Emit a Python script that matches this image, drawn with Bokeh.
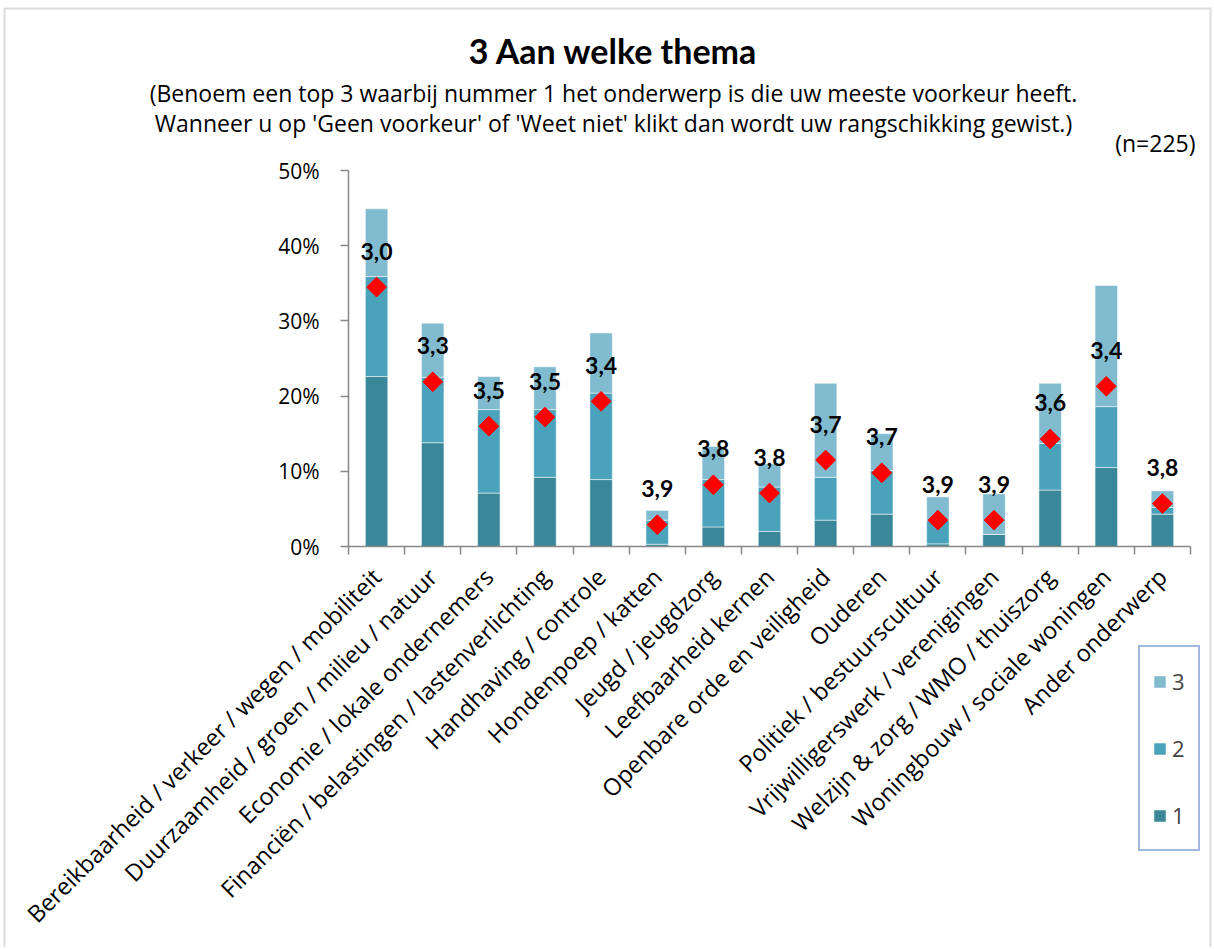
import numpy as np
from bokeh.plotting import figure
from bokeh.models import (Range1d, LinearAxis, FixedTicker, ColumnDataSource, Label, LabelSet,
                          Legend, LegendItem, PrintfTickFormatter, BoxAnnotation)
from bokeh.core.properties import value
from bokeh.embed import file_html
from bokeh.resources import INLINE

categories = [
    "Bereikbaarheid / verkeer / wegen / mobiliteit",
    "Duurzaamheid / groen / milieu / natuur",
    "Economie / lokale ondernemers",
    "Financiën / belastingen / lastenverlichting",
    "Handhaving / controle",
    "Hondenpoep / katten",
    "Jeugd / jeugdzorg",
    "Leefbaarheid kernen",
    "Openbare orde en veiligheid",
    "Ouderen",
    "Politiek / bestuurscultuur",
    "Vrijwilligerswerk / verenigingen",
    "Welzijn & zorg / WMO / thuiszorg",
    "Woningbouw / sociale woningen",
    "Ander onderwerp",
]
rank1 = [22.6, 13.8, 7.1, 9.2, 8.9, 0.3, 2.6, 2.0, 3.5, 4.3, 0.35, 1.6, 7.5, 10.5, 4.3]
rank2 = [13.3, 8.7, 11.1, 9.0, 11.5, 3.2, 6.3, 5.9, 5.7, 5.8, 3.15, 0.0, 6.2, 8.1, 0.9]
rank3 = [9.0, 7.2, 4.4, 5.7, 8.0, 1.3, 4.4, 3.1, 12.5, 4.9, 3.1, 5.4, 8.0, 16.1, 2.2]
score = [34.5, 21.9, 16.0, 17.2, 19.3, 2.9, 8.2, 7.1, 11.5, 9.8, 3.5, 3.5, 14.3, 21.3, 5.7]
avg_labels = ["3,0", "3,3", "3,5", "3,5", "3,4", "3,9", "3,8", "3,8", "3,7", "3,7",
              "3,9", "3,9", "3,6", "3,4", "3,8"]
series_names = ["1", "2", "3"]
y_ticks = [0, 10, 20, 30, 40, 50]
colors = ["#3A8799", "#4AA3BB", "#80BBD0"]

FONT = "Open Sans"
BOLD_FONT = "Lato"
n = len(categories)
xpos = [i + 0.5 for i in range(n)]  # category centres on a 0..n axis
boundaries = list(range(0, n + 1))

# page geometry (pixels) -> data units for placing annotations
W, H = 1212, 947
PX_LEFT, PX_RIGHT, PY_TOP, PY_BOTTOM = 348, 1190, 170, 546
XU = (PX_RIGHT - PX_LEFT) / n
YU = (PY_BOTTOM - PY_TOP) / 50.0
def dx(px):
    return (px - PX_LEFT) / XU
def dy(py):
    return 50 - (py - PY_TOP) / YU

src = ColumnDataSource(dict(x=xpos, r1=rank1, r2=rank2, r3=rank3,
                            score=score, lab=avg_labels))

p = figure(width=W, height=H, x_range=Range1d(dx(0), dx(W)), y_range=Range1d(dy(H), dy(0)),
           output_backend="svg", toolbar_location=None,
           x_axis_location=None, y_axis_location=None, min_border=0)
p.outline_line_color = None
p.xgrid.visible = False
p.ygrid.visible = False
p.background_fill_color = "white"
p.border_fill_color = "white"

# chart-area border
p.add_layout(BoxAnnotation(left=dx(4), right=dx(1210), top=dy(8), bottom=dy(H + 20),
                           fill_alpha=0, line_color="#8c8c8c", line_width=2))

# axis with tick marks between categories (no labels)
xa = LinearAxis(ticker=FixedTicker(ticks=boundaries), fixed_location=0, bounds=(0, n),
                major_label_overrides={b: "" for b in boundaries})
xa.major_label_standoff = 0
xa.axis_line_color = "#898989"
xa.axis_line_width = 1.5
xa.major_tick_line_color = "#898989"
xa.major_tick_line_width = 1.5
xa.major_tick_in = 0
xa.major_tick_out = 8
xa.minor_tick_line_color = None
p.add_layout(xa, "below")

# axis carrying the category labels at the centres
cax = LinearAxis(ticker=FixedTicker(ticks=xpos), fixed_location=0,
                 major_label_overrides={x: c for x, c in zip(xpos, categories)})
cax.major_label_orientation = np.pi / 4
cax.major_label_text_font = FONT
cax.major_label_text_font_size = "23.5px"
cax.major_label_text_color = "black"
cax.axis_line_color = None
cax.major_tick_line_color = None
cax.minor_tick_line_color = None
cax.major_label_standoff = 20
p.add_layout(cax, "below")

ya = LinearAxis(ticker=FixedTicker(ticks=y_ticks), fixed_location=0, bounds=(0, 50),
                formatter=PrintfTickFormatter(format="%d%%"))
ya.major_label_text_font = FONT
ya.major_label_text_font_size = "21px"
ya.major_label_text_color = "black"
ya.axis_line_color = "#898989"
ya.axis_line_width = 1.5
ya.major_tick_line_color = "#898989"
ya.major_tick_line_width = 1.5
ya.major_tick_in = 0
ya.major_tick_out = 8
ya.minor_tick_line_color = None
ya.major_label_standoff = 21
p.add_layout(ya, "left")

stack = p.vbar_stack(["r1", "r2", "r3"], x="x", width=0.4, source=src,
                     color=colors, line_color="white", line_alpha=0.5, line_width=1)

p.scatter(x="x", y="score", source=src, marker="square", angle=np.pi / 4,
          size=14, fill_color="#FF0000", line_color="#FF0000")

labels = LabelSet(x="x", y="score", text="lab", source=src,
                  y_offset=36, text_align="center", text_baseline="middle",
                  text_font=value(BOLD_FONT), text_font_size=value("23px"),
                  text_font_style="bold", text_color="black")
p.add_layout(labels)

legend = Legend(items=[LegendItem(label=series_names[2], renderers=[stack[2]]),
                       LegendItem(label=series_names[1], renderers=[stack[1]]),
                       LegendItem(label=series_names[0], renderers=[stack[0]])],
                location=(1138, H - 851), orientation="vertical",
                glyph_width=15, glyph_height=15, label_standoff=5,
                label_width=14, label_height=44,
                spacing=23, padding=12, margin=0,
                label_text_font=FONT, label_text_font_size="22px",
                border_line_color="#4472C4", border_line_width=2,
                background_fill_color="white", background_fill_alpha=1)
p.add_layout(legend, "center")

p.add_layout(Label(x=dx(613), y=dy(50), text="3 Aan welke thema",
                   text_align="center", text_baseline="middle", text_font=BOLD_FONT,
                   text_font_size="34px", text_font_style="bold", text_color="black"))
p.add_layout(Label(x=dx(613), y=dy(92),
                   text="(Benoem een top 3 waarbij nummer 1 het onderwerp is die uw meeste voorkeur heeft.",
                   text_align="center", text_baseline="middle", text_font=FONT,
                   text_font_size="23px", text_color="black"))
p.add_layout(Label(x=dx(613), y=dy(122),
                   text="Wanneer u op 'Geen voorkeur' of 'Weet niet' klikt dan wordt uw rangschikking gewist.)",
                   text_align="center", text_baseline="middle", text_font=FONT,
                   text_font_size="23px", text_color="black"))
p.add_layout(Label(x=dx(1195), y=dy(142), text="(n=225)",
                   text_align="right", text_baseline="middle", text_font=FONT,
                   text_font_size="23px", text_color="black"))

open("out.html", "w").write(file_html(p, INLINE))
